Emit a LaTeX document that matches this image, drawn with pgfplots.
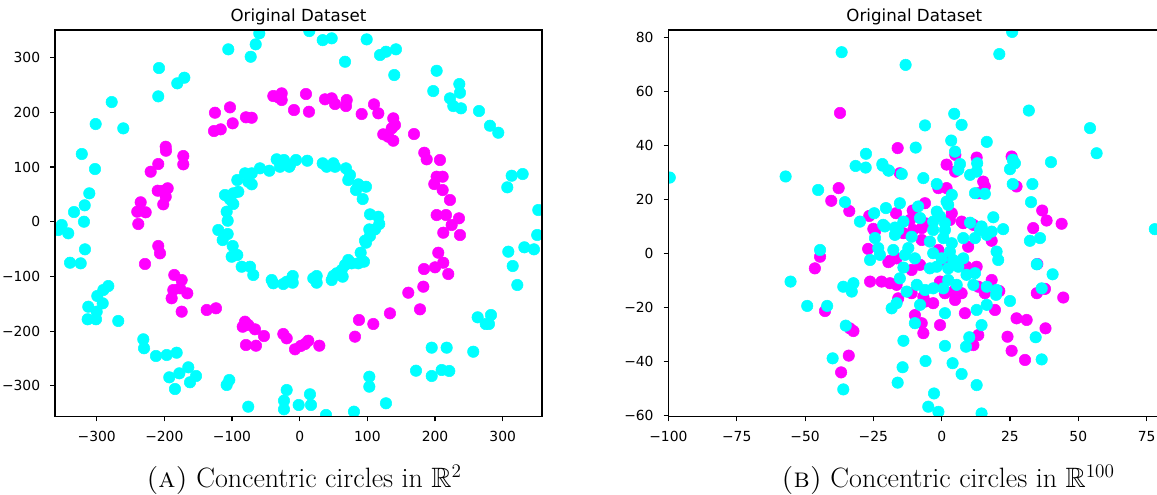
\documentclass[border=0pt]{standalone}
\usepackage{fontspec}
\usepackage{amssymb}
\usepackage{pgfplots}
\pgfplotsset{compat=1.18}
\newfontfamily\dejavu{DejaVu Sans}
\definecolor{mcyan}{RGB}{0,255,255}
\definecolor{mmag}{RGB}{255,0,255}

\pgfplotstableread{
x y
-125.2 199.3
-126.6 165.8
-116.7 168.9
-103 209.1
-99 179.9
-79.4 190.9
-70.9 190.1
-39 229.8
-31.6 227.4
-26.6 234.7
-26.6 222.5
-8.4 204.2
-198 137.1
-197.6 129.8
-209 105.5
-220.2 91.4
-172 120.1
-172 104.9
-209.8 56.7
-201.6 56.7
-195.1 61.1
-198 45.7
-201.6 31.8
-235 35.5
-240 18.3
-227.6 17.2
-238.5 -4.2
9.3 233.5
13.7 201.1
37.4 223.8
47.3 225.6
52.2 215.2
69.5 222.5
68.4 211.5
91.6 196.9
109.8 214.6
116.2 198.2
138.3 189
140.8 176.8
136 170.7
123.5 159.8
130.9 155.4
138.3 148.1
168.9 160.3
184.1 126.1
187.7 114.1
207.3 112.8
202.4 82.3
211.3 82.3
198.9 68.9
211.3 57.9
222.1 39.7
202.4 12.2
216.2 12.2
235.4 6.2
224.6 -6
212.2 -20.1
236.9 -24.3
204.8 -56.7
200 -83.4
212.2 -75
219.6 -95.6
183.7 -86.5
182.7 -118.8
160.5 -129.8
177.8 -160.2
133.4 -167.5
87.6 -179.7
108.8 -187
81.7 -210.2
29 -226.7
12.7 -217.6
7.8 -223.6
1.5 -227.2
-6.9 -233.3
-24.2 -205.3
-19.2 -213.2
-209 -44.4
-206.4 -57.8
-228.6 -77.3
-185.3 -97.4
-174.4 -106.6
-186.8 -124.9
-176.9 -121.8
-166.1 -130.9
-189.2 -140
-174.4 -164.5
-137.4 -161.4
-123.7 -158.3
-80.8 -182.8
-84.2 -192
-76 -188.8
-66.1 -196.7
-52.8 -209
-79.4 -225.4
-64.6 -226.7
}\leftmag

\pgfplotstableread{
x y
-110.4 48.8
-103 40.9
-98.1 32.4
-107.9 18.3
-106.4 1.8
-98.1 51.9
-90.7 54.8
-92.2 76.2
-80.8 88.5
-76 73.1
-70.9 68.4
-70.9 88.5
-58.7 97.6
-44.9 93.2
-34 114.1
-29.1 100.5
-23.2 112.8
-15.4 100.5
-5.5 112.8
-14.3 103.7
11.2 111.5
34 106.8
39.9 100.5
49.7 106.8
52.2 100.5
68.4 97.6
74.3 85.4
71.8 76.2
86.6 68.4
83.2 57.9
98 64
93.1 41.5
103.9 13.5
116.2 9.1
117.6 -4.2
102.9 -14
111.3 -14
103.9 -26.1
96.5 -34.7
98 -38.4
90.1 -56.7
95 -73.1
86.6 -76.1
76.8 -76.1
71.8 -70
67 -79.2
62.1 -88.3
63.5 -100.5
54.7 -94.3
47.3 -106.6
49.7 -99.3
25.1 -99.3
20.1 -103.5
25.1 -111.5
-10.3 -99.3
-10.3 -111.5
-24.2 -113.9
-120.3 -15.2
-113.8 -33.5
-106.4 -22.5
-99 -44.4
-100.5 -64
-92.2 -60.9
-85.7 -82.3
-73.4 -82.3
-68.6 -97.4
-41.4 -106.6
-39 -112.6
-19.2 -109.7
-351.7 -6
-322 123.8
-301.5 178.6
-277.8 218.8
-260.7 170.7
-302.5 96.3
-310.9 51.9
-333.5 17.7
-317.7 30
-318.8 0
-207.9 281
-209 229.2
-180.9 253
-170.5 263.3
-105.5 315.2
-72.4 301.6
-65 324.3
-59.7 344.4
14.2 348.6
34 332
47.3 335.3
99 333.4
67 292.5
118.7 304.8
127.5 310.8
142.3 315.2
139.8 268.2
202.4 276
197.4 238.9
235.9 251.7
236.9 235.8
222.1 225.6
227 211.5
238.4 207.3
265 202.4
281.2 175.5
293.5 162.7
313.3 84.1
329.5 87.2
306.8 62.9
352.6 21.4
351 -24.3
346.2 -50.5
332 -46.8
308.3 -54.8
314.8 -81
321.6 -115.7
-356.7 -15.2
-342 -21.2
-339.4 -75
-323.6 -76.1
-317.3 -50.5
-312.4 -155.4
-313.3 -178.4
-301 -178.4
-300 -164.5
-299.1 -135.8
-290.2 -124.9
-282.8 -117.6
-291.1 -149.2
-268.1 -181.5
-231.1 -215
-230 -231.4
-212.4 -245.5
-196.5 -243.7
-181.8 -239.5
-192.7 -284.5
-177.9 -277.2
-184.3 -305.9
-164.6 -266.2
-162.1 -293.6
-153.2 -282.1
-107.9 -298.5
-104 -289.4
-76 -338.2
-19.2 -307.7
-23.2 -327.2
-23.2 -343
-1.5 -335.1
15.2 -315.5
16.7 -335.1
38.9 -353.4
80.2 -347.3
102.9 -283.4
102.9 -301.6
127.5 -332
171.9 -272.4
195.1 -230.3
217.2 -230.3
195.1 -282.1
209.8 -271.1
221.1 -272.9
256.5 -237.7
263 -174.8
274.9 -187
279.7 -187
282.7 -170.6
}\leftcyan

\pgfplotstableread{
x y
-37.2 51.9
-37.7 24.1
-40.4 19.4
-33.8 15.6
-26.5 13.8
-16.1 38.9
5 36.4
1.8 32.8
4.9 30.2
12.8 35.4
25.6 35.8
-15.3 29.6
15.2 26.5
15.8 24.7
13.4 22.2
27.4 24.7
36.8 15.8
38.4 12.1
43.9 10.9
33.5 9.3
-1.2 24.1
1.8 24.1
-6.1 18.5
-10.6 15.8
-16.7 14.8
3.7 14.8
3 12.3
7.3 11.7
-11.6 12.3
-6.1 11.1
-25 9
7.9 11.1
11.6 10.5
-24.4 8
-14 7.4
-10.4 8.6
-7.3 9.3
-7.3 4.9
9.7 2.4
18.3 4.6
-26.9 1.6
-18.9 -2.8
-16.5 -1.9
-19.5 -3.3
-7.9 -4.3
-11 -6.2
-1.2 1.2
1.2 -3.1
9.1 -5
12.8 -5
18.3 -9.9
35 -4
-26.2 -10.5
-22 -10.5
-18.9 -11.1
-16.5 -11.7
-11 -14.8
-0.6 -10.5
1.2 -14.8
4.2 -14.2
7.3 -14.8
13.4 -12.4
15.8 -14.8
21.1 -14
34.8 -14.8
-15.9 -16.7
-6.7 -16.1
-3.1 -18.5
-6.1 -17.9
4.9 -17.3
8.5 -22.2
19.5 -21
-9.8 -22.9
-7.3 -25.9
-0.6 -26.6
27.4 -24.1
31.1 -24.7
-33.6 -27.8
37.8 -13.2
44.5 -16.4
38 -27.8
24.1 -30.9
25.6 -36.1
30.5 -39.5
13.4 -30.3
11.6 -34
-6.7 -29.6
-44.5 -1.3
-46.4 -5.6
-42.7 -21.4
-32.3 -28.8
-34 -37.9
-36.8 -44.1
}\rightmag

\pgfplotstableread{
x y
-36.6 74.4
-99.5 28
-57.1 28.4
-27.7 36.8
-31.5 32.3
-27.8 31.7
-21.6 32.4
-19.5 30.6
-45.2 23.4
-35.4 18.9
-29.9 11.7
-24.7 14.8
-20.4 16.7
25.8 81.9
21.1 73.7
-13.2 69.7
31.9 52.8
54.3 46.3
56.7 37
4.6 51.6
7.3 47.5
-6.1 47.3
3.5 41.7
16.5 41.2
-9.5 39.1
4.9 37.6
6.7 33
6.1 30.9
13 33.3
12.8 30.2
10.4 29
26 34.6
26.8 33.3
25 31.1
40 33.7
-21.7 33
-19.3 30.6
-14.6 29.3
-6.7 27.8
15.8 22
12.2 22.2
26 25.6
33.2 25.6
32.7 18.9
18.9 13.3
22.5 8.9
78 8.9
-1.8 25.6
3.7 21.6
1.8 19.1
-15.3 18.5
-8.6 17.3
-1.8 15.4
-0.6 13.6
10.4 11.3
-21.4 10.5
-14 11.7
-7.9 13
-3.1 11.7
-17.1 9.5
1.2 11.1
2.4 17.9
14.6 9.9
-20.8 9.9
-15.9 8.6
-3.1 8.6
1.2 8.6
14 8.6
18.3 8
-24.4 5.6
-17.1 6.8
-11 6.1
-4.3 4.3
0.6 5.6
3.7 3.7
7.9 5.6
12.2 5.6
16.5 6.8
32.3 4.6
36 5.6
-23.2 1.9
-22.6 -0.6
-26.2 -2.5
-17.7 1.2
-12.2 1.9
-13.4 -0.6
-14 -5.3
-9.8 -1.9
-3.1 0
0 -1.9
3 0.6
4.2 -2.5
6.1 -5
2.4 -5.6
-1.8 -5
-4.3 -5.6
7.9 -1.9
9.1 -8
12.2 -7.4
20.1 0.6
20.7 -2.5
34.8 -4.1
-15.3 -9.3
-32.3 -11.1
-32.9 -14.2
-9.1 -11.7
-12.8 -14.2
-6.1 -13.6
-3.1 -13
2.4 -9.9
5.5 -11.7
0.6 -13
11.6 -11.7
16.5 -12.4
20.1 -13.6
19.9 -15.4
36.6 -13
-16.5 -18.5
-18.3 -20.4
-7.9 -19.1
1.2 -22.2
12.8 -21
16.5 -19.1
25 -17.7
-9.8 -25.9
14.6 -26.6
40.6 -7.8
34.4 -31.1
36.6 -39.3
10.1 -31.1
8.9 -34.6
12.8 -48.8
14.6 -59.3
7.3 -44.7
4 -40.7
1.2 -34.3
-5.9 -39.9
-2.8 -51.9
-4.9 -56.8
-1.2 -58.7
-14 -32.4
-14.3 -42.2
-16.1 -47.9
-44.5 1.2
-55.3 -10.5
-36 -12.4
-49.2 -19.5
-41.9 -19.5
-35.1 -26.8
-39.9 -38.9
-36 -50.4
}\rightcyan

\pgfplotsset{
 base/.style={scale only axis, axis on top, clip marker paths=true,
   tick align=outside, xtick pos=bottom, ytick pos=left,
   major tick length=3.6pt,
   every tick/.style={black, line width=0.8pt},
   axis line style={line width=0.8pt},
   tick label style={font=\dejavu\fontsize{10.4}{12}\selectfont, inner sep=0pt},
   xticklabel style={anchor=north, yshift=-7.35pt},
   yticklabel style={anchor=east, xshift=-7.35pt},
 },
 cy/.style={only marks, mark=*, mark size=4.3pt, color=mcyan, mark options={line width=0.4pt}},
 mg/.style={only marks, mark=*, mark size=4.3pt, color=mmag, mark options={line width=0.4pt}},
}

\begin{document}
\begin{tikzpicture}
\useasboundingbox (0,0) rectangle (867.75pt,371.25pt);
\begin{axis}[base, name=L, at={(41.25pt,58.725pt)}, anchor=south west,
  width=365.25pt, height=290pt,
  xmin=-361.6, xmax=358.1, ymin=-356.5, ymax=350.5,
  xtick={-300,-200,-100,0,100,200,300},
  xticklabels={−300,−200,−100,0,100,200,300},
  ytick={-300,-200,-100,0,100,200,300},
  yticklabels={−300,−200,−100,0,100,200,300}]
\addplot[mg] table {\leftmag};
\addplot[cy] table {\leftcyan};
\end{axis}
\begin{axis}[base, name=R, at={(501.3pt,58.725pt)}, anchor=south west,
  width=368.9pt, height=290pt,
  xmin=-100, xmax=80, ymin=-60.5, ymax=82.6,
  xtick={-100,-75,-50,-25,0,25,50,75},
  xticklabels={−100,−75,−50,−25,0,25,50,75},
  ytick={-60,-40,-20,0,20,40,60,80},
  yticklabels={−60,−40,−20,0,20,40,60,80}]
\addplot[mg] table {\rightmag};
\addplot[cy] table {\rightcyan};
\end{axis}
\node[anchor=base, font=\dejavu\fontsize{12.5}{15}\selectfont, inner sep=0pt] at ([yshift=6.2pt]L.north) {Original Dataset};
\node[anchor=base, font=\dejavu\fontsize{12.5}{15}\selectfont, inner sep=0pt] at ([yshift=6.2pt]R.north) {Original Dataset};
\node[anchor=base, font=\fontsize{21}{25}\selectfont, inner sep=0pt] at (228pt,5.6pt) {\textsc{(a)} Concentric circles in $\mathbb{R}^2$};
\node[anchor=base, font=\fontsize{21}{25}\selectfont, inner sep=0pt] at (711pt,5.6pt) {\textsc{(b)} Concentric circles in $\mathbb{R}^{100}$};
\end{tikzpicture}
\end{document}
